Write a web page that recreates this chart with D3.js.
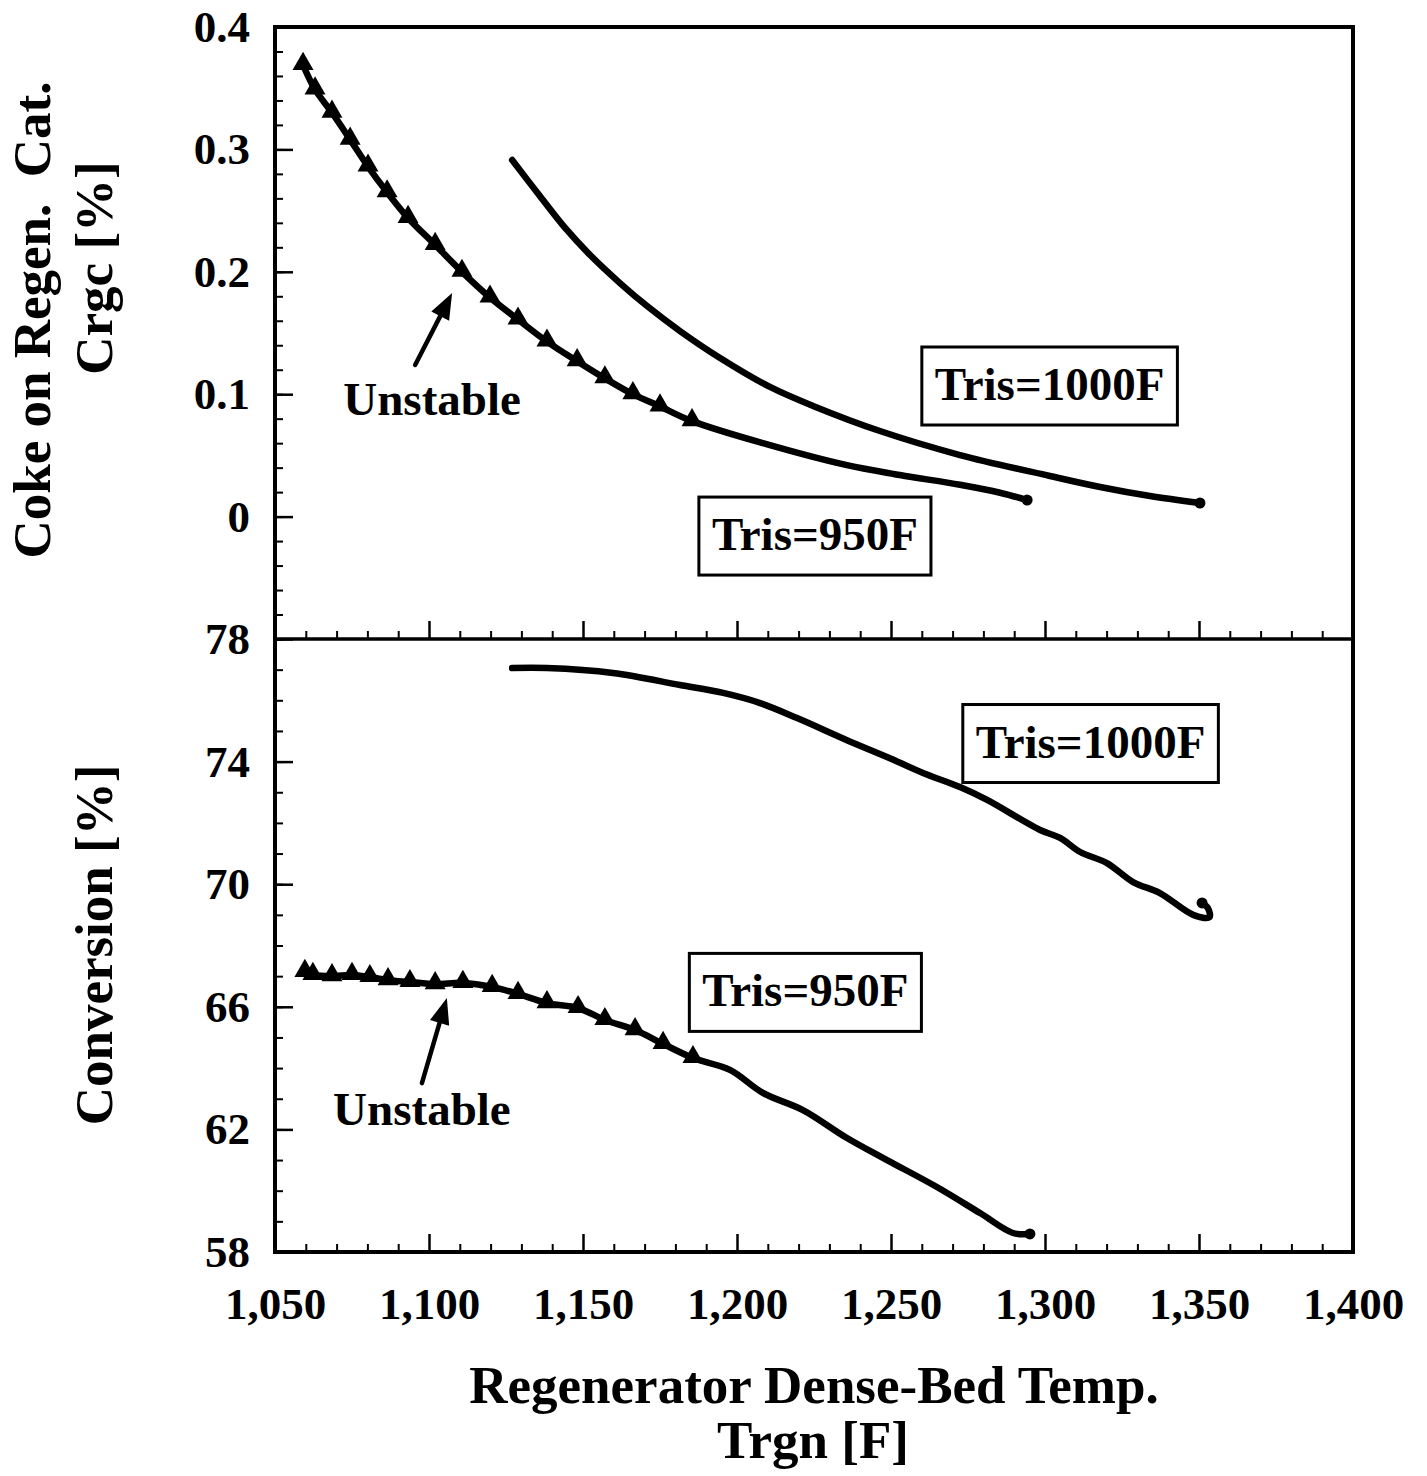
<!DOCTYPE html>
<html>
<head>
<meta charset="utf-8">
<script src="https://cdn.jsdelivr.net/npm/d3@7"></script>
<style>
body { margin: 0; background: #fff; }
text { font-family: "Liberation Serif", "Times New Roman", serif; font-weight: bold; fill: #000; }
</style>
</head>
<body>
<div id="chart"></div>
<script>
// Regenerator dense-bed temperature [F] and coke on regenerated catalyst [%]
var coke950T = [1059.1, 1063.0, 1068.5, 1074.4, 1080.2, 1086.4, 1093.2, 1102.0, 1110.7, 1119.8, 1128.9, 1138.3, 1148.1, 1157.1, 1166.2, 1175.0, 1185.4,
                1208.4, 1235.7, 1252.9, 1272.4, 1285.4, 1294.2];
var coke950C = [0.369, 0.349, 0.330, 0.308, 0.286, 0.265, 0.244, 0.222, 0.200, 0.179, 0.161, 0.143, 0.127, 0.113, 0.100, 0.090, 0.078,
                0.060, 0.042, 0.034, 0.026, 0.0195, 0.0135];
var coke1000T = [1127.0, 1136.0, 1144.2, 1152.3, 1162.0, 1170.8, 1181.5, 1194.5, 1210.7, 1224.7, 1246.4, 1272.4, 1301.6, 1317.9, 1334.1, 1350.3];
var coke1000C = [0.2913, 0.2619, 0.2358, 0.2137, 0.1908, 0.1720, 0.1516, 0.1296, 0.1059, 0.0904, 0.0699, 0.0503, 0.0332, 0.0242, 0.0168, 0.0111];

// conversion [%]
var conv950T = [1059.7, 1062.3, 1068.5, 1075.0, 1080.8, 1086.7, 1093.8, 1102.0, 1111.0, 1120.5, 1128.9, 1138.3, 1148.4, 1157.1, 1166.9, 1176.0, 1185.7,
                1197.7, 1208.4, 1221.4, 1235.7, 1248.7, 1264.9, 1278.9, 1289.6, 1295.1];
var conv950V = [67.14, 67.04, 67.0, 67.04, 66.97, 66.87, 66.81, 66.74, 66.78, 66.65, 66.42, 66.12, 65.96, 65.57, 65.24, 64.79, 64.33,
                63.94, 63.19, 62.63, 61.72, 61.0, 60.12, 59.27, 58.62, 58.59];
var conv1000T = [1127.0, 1138.3, 1159.7, 1181.5, 1195.5, 1207.5, 1219.5, 1235.7, 1248.7, 1260.4, 1272.4, 1281.2, 1298.4, 1304.9, 1311.4, 1320.1, 1328.6, 1337.3, 1348.1, 1353.4, 1352.9, 1351.0];
var conv1000V = [77.05, 77.05, 76.89, 76.50, 76.24, 75.91, 75.42, 74.70, 74.15, 73.63, 73.17, 72.75, 71.77, 71.51, 71.05, 70.69, 70.07, 69.71, 69.00, 68.92, 69.22, 69.39];

// the first 17 points of each 950F curve are on the unstable branch (triangles)
var unstableCount = 17;

var xTicks = [1050, 1100, 1150, 1200, 1250, 1300, 1350, 1400];
var cokeTicks = [0, 0.1, 0.2, 0.3, 0.4];
var convTicks = [58, 62, 66, 70, 74, 78];

var boxLabelsTop = [{text: "Tris=1000F", t: 1301.5, v: 0.1067}, {text: "Tris=950F", t: 1225.3, v: -0.0159}];
var boxLabelsBot = [{text: "Tris=1000F", t: 1314.8, v: 74.59}, {text: "Tris=950F", t: 1222.2, v: 66.47}];
var unstableTop = {t: 1101.0, v: 0.083, tail: [1095.5, 0.1239], tip: [1107.5, 0.1827]};
var unstableBot = {t: 1097.7, v: 62.14, tail: [1097.7, 63.51], tip: [1105.8, 66.29]};

var W = 1427, H = 1476;
var pLeft = 275, pRight = 1353, pTop = 27, pMid = 639, pBottom = 1252;

var svg = d3.select("#chart").append("svg")
    .attr("width", W).attr("height", H)
    .style("background", "#fff");

var x = d3.scaleLinear().domain([1050, 1400]).range([pLeft, pRight]);
var yTop = d3.scaleLinear().domain([-0.1, 0.4]).range([pMid, pTop]);
var yBot = d3.scaleLinear().domain([58, 78]).range([pBottom, pMid]);

function zip(a, b) { return a.map(function(d, i) { return [d, b[i]]; }); }

// minor + major ticks, pointing inward
function xTicksAt(yPos, labels) {
    var minor = d3.range(1050, 1401, 10).filter(function(d) { return d % 50 !== 0; });
    svg.append("g").attr("transform", "translate(0," + yPos + ")")
        .call(d3.axisBottom(x).tickValues(minor).tickSize(-8).tickFormat(""))
        .call(function(g) { g.select(".domain").remove(); g.selectAll("line").attr("stroke-width", 2); });
    svg.append("g").attr("transform", "translate(0," + yPos + ")")
        .call(d3.axisBottom(x).tickValues(xTicks.slice(1, -1)).tickSize(-18).tickFormat(""))
        .call(function(g) { g.select(".domain").remove(); g.selectAll("line").attr("stroke-width", 2.5); });
    if (labels) {
        svg.append("g").attr("transform", "translate(0," + yPos + ")")
            .call(d3.axisBottom(x).tickValues(xTicks).tickSize(0).tickPadding(35).tickFormat(d3.format(",")))
            .call(function(g) {
                g.select(".domain").remove();
                g.selectAll("text").style("font-size", "45px").attr("font-family", null);
            });
    }
}
xTicksAt(pMid, false);
xTicksAt(pBottom, true);

function yAxisAt(scale, minorStep, lo, hi, ticks, fmt) {
    var minor = d3.range(lo, hi + minorStep / 2, minorStep);
    svg.append("g").attr("transform", "translate(" + pLeft + ",0)")
        .call(d3.axisLeft(scale).tickValues(minor).tickSize(-8).tickFormat(""))
        .call(function(g) { g.select(".domain").remove(); g.selectAll("line").attr("stroke-width", 2); });
    svg.append("g").attr("transform", "translate(" + pLeft + ",0)")
        .call(d3.axisLeft(scale).tickValues(ticks).tickSize(-18).tickPadding(25).tickFormat(fmt))
        .call(function(g) {
            g.select(".domain").remove();
            g.selectAll("line").attr("stroke-width", 2.5);
            g.selectAll("text").style("font-size", "45px").attr("font-family", null);
        });
}
yAxisAt(yTop, 0.02, -0.1, 0.4, cokeTicks, function(d) { return d === 0 ? "0" : d3.format(".1f")(d); });
yAxisAt(yBot, 1, 58, 78, convTicks, d3.format("d"));

// frame
svg.append("rect").attr("x", pLeft).attr("y", pTop).attr("width", pRight - pLeft).attr("height", pBottom - pTop)
    .attr("fill", "none").attr("stroke", "#000").attr("stroke-width", 4);
svg.append("line").attr("x1", pLeft).attr("x2", pRight).attr("y1", pMid).attr("y2", pMid)
    .attr("stroke", "#000").attr("stroke-width", 3.5);

var tri = d3.symbol().type(d3.symbolTriangle).size(190);

function drawCurve(ts, vs, y, markers) {
    var pts = zip(ts, vs);
    var line = d3.line().x(function(d) { return x(d[0]); }).y(function(d) { return y(d[1]); })
        .curve(d3.curveCatmullRom.alpha(0.5));
    svg.append("path").datum(pts).attr("d", line)
        .attr("fill", "none").attr("stroke", "#000").attr("stroke-width", 6.5)
        .attr("stroke-linecap", "round").attr("stroke-linejoin", "round");
    var last = pts[pts.length - 1];
    svg.append("circle").attr("cx", x(last[0])).attr("cy", y(last[1])).attr("r", 5.5).attr("fill", "#000");
    if (markers) {
        svg.append("g").selectAll("path").data(pts.slice(0, markers)).enter().append("path")
            .attr("d", tri)
            .attr("transform", function(d) { return "translate(" + x(d[0]) + "," + (y(d[1]) - 1) + ")"; })
            .attr("fill", "#000");
    }
}
drawCurve(coke950T, coke950C, yTop, unstableCount);
drawCurve(coke1000T, coke1000C, yTop, 0);
drawCurve(conv950T, conv950V, yBot, unstableCount);
drawCurve(conv1000T, conv1000V, yBot, 0);

function boxLabel(d, y) {
    var cx = x(d.t), cy = y(d.v);
    var g = svg.append("g");
    var t = g.append("text").attr("x", cx).attr("y", cy + 14).attr("text-anchor", "middle")
        .style("font-size", "47px").text(d.text);
    var bb = t.node().getBBox();
    g.insert("rect", "text").attr("x", bb.x - 13).attr("y", cy - 39).attr("width", bb.width + 26).attr("height", 78)
        .attr("fill", "#fff").attr("stroke", "#000").attr("stroke-width", 3);
}
boxLabelsTop.forEach(function(d) { boxLabel(d, yTop); });
boxLabelsBot.forEach(function(d) { boxLabel(d, yBot); });

function unstable(a, y) {
    svg.append("text").attr("x", x(a.t)).attr("y", y(a.v)).attr("text-anchor", "middle")
        .style("font-size", "47px").text("Unstable");
    var x0 = x(a.tail[0]), y0 = y(a.tail[1]), x1 = x(a.tip[0]), y1 = y(a.tip[1]);
    var dx = x1 - x0, dy = y1 - y0, len = Math.sqrt(dx * dx + dy * dy);
    var ux = dx / len, uy = dy / len, hl = 26, hw = 10;
    var bx = x1 - ux * hl, by = y1 - uy * hl;
    svg.append("line").attr("x1", x0).attr("y1", y0).attr("x2", bx).attr("y2", by)
        .attr("stroke", "#000").attr("stroke-width", 4.5).attr("stroke-linecap", "round");
    svg.append("path")
        .attr("d", "M" + x1 + "," + y1 + "L" + (bx - uy * hw) + "," + (by + ux * hw) + "L" + (bx + uy * hw) + "," + (by - ux * hw) + "Z")
        .attr("fill", "#000");
}
unstable(unstableTop, yTop);
unstable(unstableBot, yBot);

// axis titles
svg.append("text").attr("x", 814).attr("y", 1403).attr("text-anchor", "middle")
    .style("font-size", "53px").text("Regenerator Dense-Bed Temp.");
svg.append("text").attr("x", 813).attr("y", 1458).attr("text-anchor", "middle")
    .style("font-size", "53px").text("Trgn [F]");

svg.append("text").attr("transform", "translate(50,320) rotate(-90)").attr("text-anchor", "middle")
    .style("font-size", "53px").attr("xml:space", "preserve").text("Coke on Regen.  Cat.");
svg.append("text").attr("transform", "translate(112,268) rotate(-90)").attr("text-anchor", "middle")
    .style("font-size", "53px").text("Crgc [%]");
svg.append("text").attr("transform", "translate(112,945) rotate(-90)").attr("text-anchor", "middle")
    .style("font-size", "53px").text("Conversion [%]");
</script>
</body>
</html>
